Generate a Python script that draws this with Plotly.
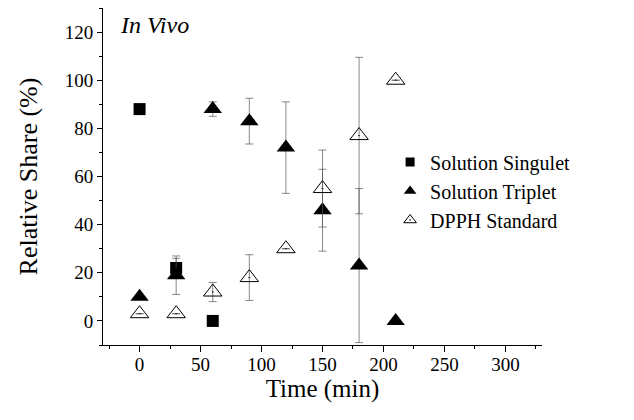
import plotly.graph_objects as go

time_s = [0, 30, 60]
singulet = [88, 22, 0]
singulet_err = [0, 4, 0]

time_t = [0, 30, 60, 90, 120, 150, 180, 210]
triplet = [10, 19, 88, 83, 72, 46, 23, 0]
triplet_err = [0, 8, 3, 9.5, 19, 17, 32, 0]

time_d = [0, 30, 60, 90, 120, 150, 180, 210]
dpph = [3, 3, 12, 18, 30, 55, 77, 100]
dpph_err = [0, 0, 4, 9.5, 0, 16, 32.5, 0]

FONT = "Liberation Serif"

def eb(vals):
    return dict(type="data", array=vals, visible=True, color="#555", thickness=0.7, width=4)

fig = go.Figure()
fig.add_trace(go.Scatter(x=time_s, y=singulet, mode="markers", error_y=eb(singulet_err),
                         marker=dict(symbol="square", size=12, color="black"), showlegend=False))
fig.add_trace(go.Scatter(x=time_t, y=triplet, mode="markers", error_y=eb(triplet_err),
                         marker=dict(symbol="triangle-up", size=16, color="black"), showlegend=False))
fig.add_trace(go.Scatter(x=time_d, y=dpph, mode="markers", error_y=eb(dpph_err),
                         marker=dict(symbol="triangle-up-open-dot", size=16, color="black",
                                     line=dict(width=1, color="black")), showlegend=False))

# legend entries
fig.add_trace(go.Scatter(x=[None], y=[None], mode="markers", name="Solution Singulet",
                         marker=dict(symbol="square", size=9, color="black")))
fig.add_trace(go.Scatter(x=[None], y=[None], mode="markers", name="Solution Triplet",
                         marker=dict(symbol="triangle-up", size=11, color="black")))
fig.add_trace(go.Scatter(x=[None], y=[None], mode="markers", name="DPPH Standard",
                         marker=dict(symbol="triangle-up-open-dot", size=11, color="black",
                                     line=dict(width=1, color="black"))))

fig.update_layout(
    width=634, height=420,
    margin=dict(l=95, r=100, t=0, b=83),
    paper_bgcolor="white", plot_bgcolor="white",
    font=dict(family=FONT, color="black", size=19),
    legend=dict(x=0.654, y=0.457, xanchor="left", yanchor="middle",
                font=dict(family=FONT, size=20), bgcolor="rgba(0,0,0,0)",
                tracegroupgap=0, itemwidth=30),
    xaxis=dict(range=[-30, 330], tickvals=[0, 50, 100, 150, 200, 250, 300],
               ticks="outside", ticklen=6, tickwidth=1, tickcolor="black",
               minor=dict(dtick=25, tick0=0, ticks="outside", ticklen=3, tickcolor="black"),
               showline=True, linecolor="black", linewidth=1, showgrid=False, zeroline=False,
               automargin=False, ticklabelstandoff=-4,
               title=dict(text="Time (min)", font=dict(family=FONT, size=25), standoff=0),
               tickfont=dict(family=FONT, size=19)),
    yaxis=dict(range=[-10, 130], tickvals=[0, 20, 40, 60, 80, 100, 120],
               ticks="outside", ticklen=5, tickwidth=1, tickcolor="black",
               minor=dict(dtick=10, tick0=0, ticks="outside", ticklen=3, tickcolor="black"),
               showline=True, linecolor="black", linewidth=1, showgrid=False, zeroline=False,
               automargin=False,
               title=dict(text="Relative Share (%)", font=dict(family=FONT, size=26), standoff=19),
               tickfont=dict(family=FONT, size=19)),
    annotations=[dict(text="<i>In Vivo</i>", xref="paper", yref="paper", x=0.035, y=0.995,
                      xanchor="left", yanchor="top", showarrow=False,
                      font=dict(family=FONT, size=24))],
)

fig.write_html("out.html")
